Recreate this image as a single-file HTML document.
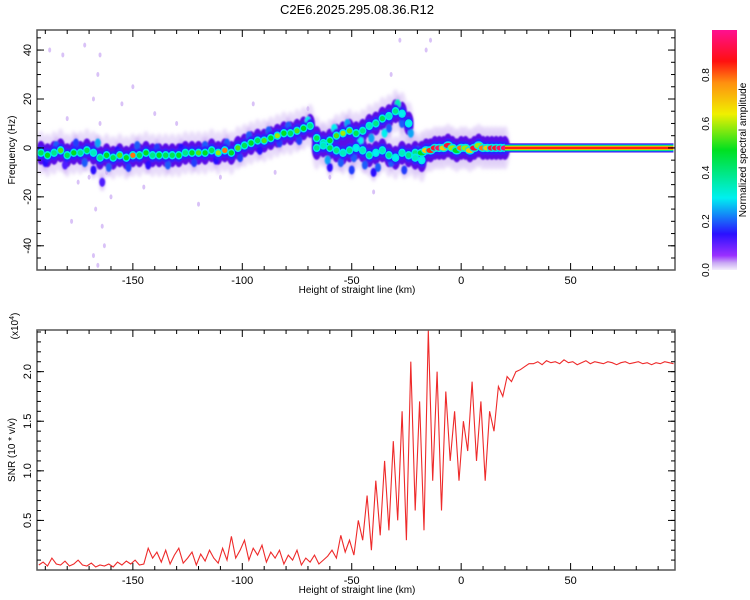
<!DOCTYPE html>
<html><head><meta charset="utf-8"><style>
body{margin:0;background:#fff;}
svg{display:block;font-family:"Liberation Sans",sans-serif;}
</style></head><body>
<svg id="chart" width="750" height="600" viewBox="0 0 750 600">
<defs>
<linearGradient id="cbg" x1="0" y1="1" x2="0" y2="0">
<stop offset="0" stop-color="#f4eefc"/><stop offset="0.03" stop-color="#c9a8f4"/><stop offset="0.06" stop-color="#9a30ff"/>
<stop offset="0.15" stop-color="#2a10ff"/><stop offset="0.3" stop-color="#00f0f0"/><stop offset="0.5" stop-color="#00e020"/>
<stop offset="0.65" stop-color="#f0f000"/><stop offset="0.78" stop-color="#ff9010"/><stop offset="0.87" stop-color="#ff1010"/>
<stop offset="1" stop-color="#ff1090"/></linearGradient>
<filter id="bl"><feGaussianBlur stdDeviation="1.5"/></filter>
<filter id="bl2"><feGaussianBlur stdDeviation="0.7"/></filter>
</defs>
<text x="357" y="14" font-size="13" text-anchor="middle">C2E6.2025.295.08.36.R12</text>
<g id="topPanel"></g>
<g id="botPanel"></g>
<g id="cbPanel"></g>
</svg>
<script>
// ===== Spectrogram data =====
const trackH = [-192,-189,-186,-183,-180,-177,-174,-171,-168,-165,-162,-159,-156,-153,-150,-147,-144,-141,-138,-135,-132,-129,-126,-123,-120,-117,-114,-111,-108,-105,-102,-99,-96,-93,-90,-87,-84,-81,-78,-75,-72,-69,-66,-63,-60,-57,-54,-51,-48,-45,-42,-39,-36,-33,-30,-27,-24,-21];
const trackF = [-2,-3,-2,-1,-3,-2,-2,-1,-2,-4,-3,-4,-3,-4,-3,-3,-2,-3,-3,-3,-3,-3,-2,-2,-2,-2,-1,-2,-1,-2,0,1,2,3,3,4,5,6,6,7,8,9,4,2,3,5,6,7,6,7,9,10,12,13,15,14,10,-2];
const trackA = [0.45,0.5,0.4,0.55,0.45,0.5,0.4,0.45,0.35,0.4,0.5,0.45,0.55,0.5,0.8,0.45,0.5,0.4,0.5,0.45,0.45,0.5,0.4,0.5,0.55,0.5,0.45,0.6,0.8,0.5,0.55,0.45,0.5,0.45,0.55,0.5,0.6,0.5,0.45,0.55,0.5,0.4,0.45,0.4,0.5,0.55,0.6,0.55,0.45,0.4,0.35,0.4,0.45,0.35,0.4,0.3,0.3,0.4];
const lowH = [-66,-63,-60,-57,-54,-51,-48,-45,-42,-39,-36,-33,-30,-27,-24,-21,-18];
const lowF = [0,1,0,-1,-2,-1,0,-1,-3,-2,-1,-3,-4,-2,-3,-4,-5];
const lowA = [0.4,0.35,0.45,0.4,0.35,0.4,0.3,0.35,0.4,0.3,0.35,0.4,0.3,0.35,0.4,0.35,0.3];
const nearH = [-18,-16,-14,-12,-10,-8,-6,-4,-2,0,2,4,6,8,10,12,14,16,18,20];
const nearF = [-2,-1,-1,0,0,0,1,0,-1,0,0,-1,0,1,0,0,0,0,0,0];
const nearA = [0.5,0.7,0.85,0.9,0.95,0.7,0.9,0.6,0.5,0.8,0.6,0.7,0.9,0.6,0.8,0.7,0.9,0.9,0.95,0.95];
const cloudH = [-190,-185,-181,-176,-172,-168,-166,-164,-161,-157,-152,-148,-143,-139,-134,-128,-122,-117,-112,-107,-101,-97,-92,-88,-83,-79,-74,-70,-64,-61,-58,-55,-52,-49,-46,-44,-41,-38,-35,-32,-29,-26,-23,-20,-60,-50,-40,-33,-27];
const cloudF = [-6,1,-7,2,-6,-9,2,-14,-8,-1,-8,1,-7,0,-7,0,-6,1,-5,2,-4,5,-1,7,2,9,3,11,1,-5,8,-6,10,-4,3,-7,4,-8,6,-6,18,-9,6,-1,-8,-9,-10,8,10];
const cloudA = [0.15,0.2,0.12,0.18,0.2,0.15,0.25,0.12,0.2,0.15,0.18,0.2,0.15,0.18,0.2,0.15,0.18,0.2,0.15,0.2,0.18,0.2,0.15,0.2,0.18,0.2,0.18,0.3,0.2,0.25,0.3,0.2,0.25,0.2,0.3,0.2,0.25,0.2,0.3,0.2,0.35,0.18,0.25,0.2,0.15,0.18,0.15,0.2,0.2];
const bandRange = [20, 97];
const bandF = [0];
const faintH = [-188,-182,-178,-172,-168,-166,-165,-164,-163,-167,-170,-175,-160,-155,-150,-140,-120,-110,-95,-85,-70,-60,-40,-32,-28,-16,-14,-168,-166,-164,-162,-180,-130,-145,-165,-166];
const faintF = [40,38,-30,42,20,30,38,-32,-40,-25,-12,-14,-20,18,25,14,-23,-12,18,-10,16,-12,-18,30,44,40,44,-44,-48,-15,-10,12,10,-16,10,-8];

// ===== SNR data (x10^4) =====
const snrH0 = -193, snrStep = 2;
const snrV = [0.05,0.08,0.04,0.12,0.06,0.05,0.09,0.04,0.06,0.1,0.05,0.04,0.07,0.03,0.05,0.04,0.06,0.03,0.08,0.05,0.09,0.06,0.1,0.05,
0.06,0.22,0.12,0.18,0.08,0.2,0.06,0.15,0.22,0.07,0.12,0.18,0.05,0.16,0.09,0.2,0.12,0.07,0.22,0.1,0.34,0.12,0.2,
0.3,0.1,0.22,0.15,0.25,0.08,0.18,0.12,0.2,0.06,0.15,0.1,0.2,0.05,0.12,0.08,0.15,0.06,0.1,0.14,
0.2,0.12,0.35,0.18,0.3,0.15,0.5,
0.3,0.75,0.2,0.9,0.35,1.1,0.4,1.3,
0.5,1.6,0.3,2.1,0.6,1.7,0.4,2.42,
0.9,2.0,0.6,1.8,1.1,1.6,0.9,
1.5,1.2,1.9,1.1,1.7,0.9,1.6,1.4,
1.85,1.75,1.95,1.9,2.0,2.02,2.05,2.08,
2.08,2.1,2.07,2.11,2.09,2.1,2.08,2.12,2.09,2.1,2.07,2.09,2.11,2.08,2.1,2.09,2.08,2.1,2.09,2.07,2.09,2.1,2.08,2.09,2.1,2.08,2.09,2.07,2.09,2.08,2.1,2.09,2.08];

const xTicks = [-150,-100,-50,0,50];
const yTicksTop = [-40,-20,0,20,40];
const yTicksBot = [0.5,1.0,1.5,2.0];
const cbTicks = [0.0,0.2,0.4,0.6,0.8];

(function(){
const NS="http://www.w3.org/2000/svg";
function el(t,a,p){const e=document.createElementNS(NS,t);for(const k in a)e.setAttribute(k,a[k]);p.appendChild(e);return e;}
const L=37,R=675,T1=30,B1=270,T2=330,B2=570;
const X0=-193.8,X1=97.7;
const xs=h=>L+(h-X0)/(X1-X0)*(R-L);
const ys=f=>T1+(48.2-f)/(48.2+49.9)*(B1-T1);
const ys2=v=>B2-(v/2.42)*(B2-T2);
function cmap(a){
 const st=[[0,[244,238,252]],[0.06,[154,48,255]],[0.15,[42,16,255]],[0.3,[0,240,240]],[0.5,[0,224,32]],[0.65,[240,240,0]],[0.78,[255,144,16]],[0.87,[255,16,16]],[1,[255,16,144]]];
 for(let i=1;i<st.length;i++){if(a<=st[i][0]){const t=(a-st[i-1][0])/(st[i][0]-st[i-1][0]);const c=st[i-1][1].map((v,j)=>Math.round(v+(st[i][1][j]-v)*t));return `rgb(${c.join(',')})`;}}
 return 'rgb(255,16,144)';
}
const topG=document.getElementById('topPanel'), botG=document.getElementById('botPanel'), cbG=document.getElementById('cbPanel');
const clipT=el('clipPath',{id:'ct'},topG); el('rect',{x:L,y:T1,width:R-L,height:B1-T1},clipT);
const gT=el('g',{'clip-path':'url(#ct)'},topG);
faintH.forEach((h,i)=>{const d=el('ellipse',{cx:xs(h),cy:ys(faintF[i]),rx:1.5,ry:2.5,fill:'#c9a8f4',opacity:0.7},gT);

});
const allH=[...trackH,...lowH,...nearH], allF=[...trackF,...lowF,...nearF];
// haze layers
const gHaze=el('g',{filter:'url(#bl)'},gT);
allH.forEach((h,i)=>{el('ellipse',{cx:xs(h),cy:ys(allF[i]),rx:5,ry:22,fill:'#d4bcf6',opacity:0.5},gHaze);});
cloudH.forEach((h,i)=>{el('ellipse',{cx:xs(h),cy:ys(cloudF[i]),rx:3,ry:9,fill:'#c9a8f4',opacity:0.6},gHaze);});
const gInd=el('g',{filter:'url(#bl2)'},gT);
allH.forEach((h,i)=>{el('ellipse',{cx:xs(h),cy:ys(allF[i]),rx:5,ry:12,fill:'#5a10e6'},gInd);});
cloudH.forEach((h,i)=>{const c=el('ellipse',{cx:xs(h),cy:ys(cloudF[i]),rx:3,ry:4.5,fill:cmap(cloudA[i])},gInd);
 
 });
allH.forEach((h,i)=>{el('ellipse',{cx:xs(h),cy:ys(allF[i]),rx:4.5,ry:7,fill:'#2a20ff'},gInd);});
function drawCores(H,F,A,nm,elong){
 H.forEach((h,i)=>{
  const c=el('ellipse',{cx:xs(h),cy:ys(F[i]),rx:elong?5:3.8,ry:4.2,fill:'#00e8e8'},gT);
  
  
  el('ellipse',{cx:xs(h),cy:ys(F[i]),rx:elong?4.2:2.6,ry:2.6,fill:cmap(A[i])},gT);});
}
drawCores(trackH,trackF,trackA,'main-track-point',false);
drawCores(lowH,lowF,lowA,'lower-branch-point',false);
drawCores(nearH,nearF,nearA,'zero-track-point',true);
const bx0=xs(bandRange[0]),bx1=xs(bandRange[1]),bc=ys(bandF[0]);
[[4.6,'#5a10e6'],[4.0,'#2020ff'],[3.3,'#00e0f0'],[2.6,'#20e020'],[2,'#f0f000'],[1.3,'#ff2010']].forEach(([hh,c])=>{
 const r=el('rect',{x:bx0,y:bc-hh,width:bx1-bx0,height:2*hh,fill:c},gT);
 
 });
function axes(g,T,B,yt,ysf,minorStep,ymin,ymax,fmt){
 el('rect',{x:L,y:T,width:R-L,height:B-T,fill:'none',stroke:'#555','stroke-width':1.5},g);
 for(let h=-190;h<=90;h+=10){const x=xs(h);const big=h%50===0;const s=big?7:4;
  el('line',{x1:x,y1:B,x2:x,y2:B-s,stroke:'#000'},g);el('line',{x1:x,y1:T,x2:x,y2:T+s,stroke:'#000'},g);}
 for(let v=ymin;v<=ymax+1e-9;v+=minorStep){const y=ysf(v);el('line',{x1:L,y1:y,x2:L+4,y2:y,stroke:'#000'},g);el('line',{x1:R,y1:y,x2:R-4,y2:y,stroke:'#000'},g);}
 yt.forEach(v=>{const y=ysf(v);el('line',{x1:L,y1:y,x2:L+7,y2:y,stroke:'#000'},g);el('line',{x1:R,y1:y,x2:R-7,y2:y,stroke:'#000'},g);
  const t=el('text',{x:0,y:0,'font-size':11,'text-anchor':'middle',transform:`translate(31,${y}) rotate(-90)`},g);t.textContent=fmt(v);
  
  });
 xTicks.forEach(v=>{const t=el('text',{x:xs(v),y:B+14,'font-size':11,'text-anchor':'middle'},g);t.textContent=v;
  
  });
 const xt=el('text',{x:357,y:B+23,'font-size':10,'text-anchor':'middle'},g);xt.textContent='Height of straight line (km)';
 
 
}
axes(topG,T1,B1,yTicksTop,ys,5,-45,45,v=>String(v));
const yt1=el('text',{x:0,y:0,'font-size':10,'text-anchor':'middle',transform:'translate(15,150) rotate(-90)'},topG);yt1.textContent='Frequency (Hz)';


const pts=snrV.map((v,i)=>`${xs(snrH0+i*snrStep).toFixed(1)},${ys2(v).toFixed(1)}`).join(' ');
const ln=el('polyline',{points:pts,fill:'none',stroke:'#ee2a2a','stroke-width':1.1},botG);


axes(botG,T2,B2,yTicksBot,ys2,0.1,0.1,2.4,v=>v.toFixed(1));
const yt2=el('text',{x:0,y:0,'font-size':10,'text-anchor':'middle',transform:'translate(15,450) rotate(-90)'},botG);yt2.textContent='SNR (10 * v/v)';


const ex=el('text',{x:0,y:0,'font-size':10,'text-anchor':'middle',transform:'translate(18,326) rotate(-90)'},botG);
const s1=el('tspan',{},ex);s1.textContent='(x10';
const s2=el('tspan',{'font-size':7,dy:-4},ex);s2.textContent='4';
const s3=el('tspan',{dy:4},ex);s3.textContent=')';


const cbT=30,cbB=270,cbMax=0.985;
const cy=v=>cbB-v/cbMax*(cbB-cbT);
el('rect',{x:712,y:cbT,width:25,height:cbB-cbT,fill:'url(#cbg)'},cbG);
cbTicks.forEach(v=>{const t=el('text',{x:0,y:0,'font-size':10,'text-anchor':'middle',transform:`translate(709,${cy(v)}) rotate(-90)`},cbG);t.textContent=v.toFixed(1);
 
 });
const ct=el('text',{x:0,y:0,'font-size':10,'text-anchor':'middle',transform:'translate(746,150) rotate(-90)'},cbG);ct.textContent='Normalized spectral amplitude';


})();
</script>
</body></html>
